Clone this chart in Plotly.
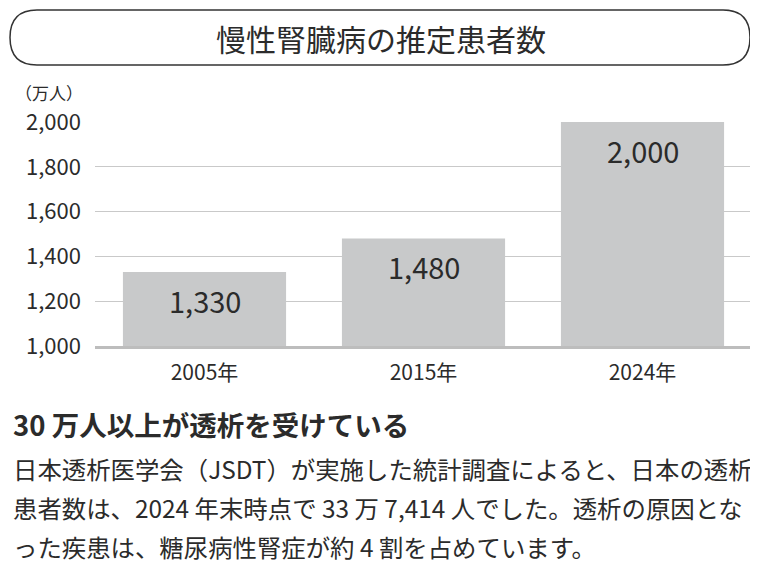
import plotly.graph_objects as go

years = ["2005年", "2015年", "2024年"]
patients = [1330, 1480, 2000]
bar_labels = ["1,330", "1,480", "2,000"]
y_ticks = [1000, 1200, 1400, 1600, 1800, 2000]
y_tick_text = ["1,000", "1,200", "1,400", "1,600", "1,800", "2,000"]

title = "慢性腎臓病の推定患者数"
unit = "（万人）"
heading = "30 万人以上が透析を受けている"
body_lines = [
    "日本透析医学会（JSDT）が実施した統計調査によると、日本の透析",
    "患者数は、2024 年末時点で 33 万 7,414 人でした。透析の原因とな",
    "った疾患は、糖尿病性腎症が約 4 割を占めています。",
]

# the page body has an 8px margin, so the figure is a bit smaller than the window
OFF = 8
W, H = 758 - OFF, 566 - OFF
L, R, T, B = 95 - OFF, 6, 122 - OFF, 566 - 346
FONT = "Noto Sans CJK JP"
TXT = "#2b2b2b"


def px(x):
    # window pixel -> paper x
    return (x - OFF - L) / (W - L - R)


def py(y):
    # window pixel -> paper y
    return (H - B - (y - OFF)) / (H - T - B)


fig = go.Figure(
    go.Bar(
        x=years,
        y=patients,
        marker=dict(color="#c8c9ca", line=dict(width=0)),
        width=0.745,
        hoverinfo="skip",
    )
)

# value labels sit near the top of each bar
for yr, v, lab in zip(years, patients, bar_labels):
    fig.add_annotation(
        x=yr, y=v, yshift=-28, text=lab, showarrow=False,
        font=dict(family=FONT, size=29, color=TXT),
    )

# rounded title box
x0, x1, y0, y1, r = 10, 750, 10, 65, 27
pts = [
    ("M", x0 + r, y0), ("L", x1 - r, y0),
    ("Q", x1, y0, x1, (y0 + y1) / 2), ("Q", x1, y1, x1 - r, y1),
    ("L", x0 + r, y1),
    ("Q", x0, y1, x0, (y0 + y1) / 2), ("Q", x0, y0, x0 + r, y0),
]
path = ""
for p in pts:
    cmd, coords = p[0], p[1:]
    pairs = [f"{px(coords[i]):.5f},{py(coords[i + 1]):.5f}" for i in range(0, len(coords), 2)]
    path += cmd + " " + " ".join(pairs) + " "
path += "Z"
fig.add_shape(type="path", path=path, xref="paper", yref="paper",
              line=dict(color="#333333", width=1.5))

fig.add_annotation(x=px(381), y=py(38), xref="paper", yref="paper", text=title,
                   showarrow=False, xanchor="center", yanchor="middle",
                   font=dict(family=FONT, size=30, color=TXT))
fig.add_annotation(x=px(13), y=py(92), xref="paper", yref="paper", text=unit,
                   showarrow=False, xanchor="left", yanchor="middle",
                   font=dict(family=FONT, size=17, color=TXT))
fig.add_annotation(x=px(11), y=py(424), xref="paper", yref="paper", text=heading,
                   showarrow=False, xanchor="left", yanchor="middle",
                   font=dict(family=FONT, size=27.5, color=TXT, weight="bold"))
for i, line in enumerate(body_lines):
    fig.add_annotation(x=px(11), y=py([468, 507, 546][i]), xref="paper", yref="paper",
                       text=line, showarrow=False, xanchor="left", yanchor="middle",
                       font=dict(family=FONT, size=24.4, color=TXT))

fig.update_layout(
    width=W, height=H,
    margin=dict(l=L, r=R, t=T, b=B),
    paper_bgcolor="white", plot_bgcolor="white",
    showlegend=False, bargap=0.255,
    font=dict(family=FONT, color=TXT),
)
fig.update_xaxes(
    showline=True, linecolor="#bdbdbd", linewidth=3, showgrid=False,
    ticks="", tickfont=dict(size=21, color=TXT), ticklabelstandoff=6,
)
fig.update_yaxes(
    range=[1000, 2000], tickvals=y_ticks, ticktext=y_tick_text,
    showgrid=True, gridcolor="#c9c9c9", gridwidth=1, zeroline=False,
    ticks="", tickfont=dict(size=22, color=TXT), ticklabelstandoff=13,
)

fig.write_html("out.html")
